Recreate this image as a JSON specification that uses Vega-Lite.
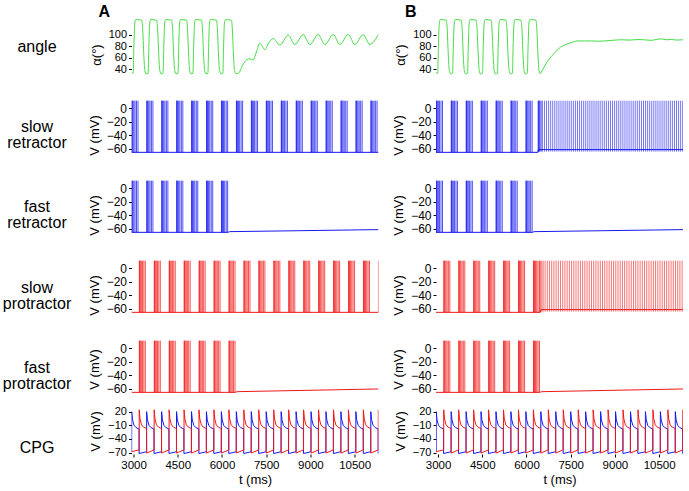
{
"$schema":"https://vega.github.io/schema/vega-lite/v6.json",
"padding":{"left":0,"top":4,"right":0,"bottom":0},
"config":{"view":{"stroke":null},"font":"Liberation Sans",
"axis":{"domain":false,"grid":false,"tickSize":3,"tickColor":"#000","labelColor":"#000","labelFontSize":12,"titleFontSize":13,"titleFontWeight":"normal","titleColor":"#000","labelPadding":2,"titlePadding":5,"labelFlush":false,"labelOverlap":false},
"title":{"fontSize":16,"fontWeight":"bold","color":"#000","anchor":"start","frame":"group","offset":-1}},
"datasets":{
"labels":[{"r":0,"lab":"angle"},{"r":1,"lab":"slow\nretractor"},{"r":2,"lab":"fast\nretractor"},{"r":3,"lab":"slow\nprotractor"},{"r":4,"lab":"fast\nprotractor"},{"r":5,"lab":"CPG"}],
"angCyc":[{"t":2930,"v":34},{"t":2987,"v":33},{"t":3012,"v":80},{"t":3042,"v":120},{"t":3077,"v":126},{"t":3277,"v":125},{"t":3307,"v":112},{"t":3347,"v":65},{"t":3382,"v":38},{"t":3427,"v":32},
{"t":3494,"v":33},{"t":3519,"v":80},{"t":3549,"v":120},{"t":3584,"v":126},{"t":3784,"v":125},{"t":3814,"v":112},{"t":3854,"v":65},{"t":3889,"v":38},{"t":3934,"v":32},
{"t":4001,"v":33},{"t":4026,"v":80},{"t":4056,"v":120},{"t":4091,"v":126},{"t":4291,"v":125},{"t":4321,"v":112},{"t":4361,"v":65},{"t":4396,"v":38},{"t":4441,"v":32},
{"t":4508,"v":33},{"t":4533,"v":80},{"t":4563,"v":120},{"t":4598,"v":126},{"t":4798,"v":125},{"t":4828,"v":112},{"t":4868,"v":65},{"t":4903,"v":38},{"t":4948,"v":32},
{"t":5015,"v":33},{"t":5040,"v":80},{"t":5070,"v":120},{"t":5105,"v":126},{"t":5305,"v":125},{"t":5335,"v":112},{"t":5375,"v":65},{"t":5410,"v":38},{"t":5455,"v":32},
{"t":5522,"v":33},{"t":5547,"v":80},{"t":5577,"v":120},{"t":5612,"v":126},{"t":5812,"v":125},{"t":5842,"v":112},{"t":5882,"v":65},{"t":5917,"v":38},{"t":5962,"v":32},
{"t":6029,"v":33},{"t":6054,"v":80},{"t":6084,"v":120},{"t":6119,"v":126},{"t":6319,"v":125},{"t":6349,"v":112},{"t":6389,"v":65},{"t":6424,"v":38},{"t":6469,"v":32}],
"angTailA":[{"t":6469,"v":32},{"t":6560,"v":33},{"t":6700,"v":47},{"t":6832,"v":56},{"t":6950,"v":58},{"t":7058,"v":56},{"t":7180,"v":72},{"t":7284,"v":85},{"t":7454,"v":74},{"t":7600,"v":87},{"t":7737,"v":93},{"t":7963,"v":82},{"t":8246,"v":99},{"t":8472,"v":83},{"t":8755,"v":100},{"t":8981,"v":83},{"t":9264,"v":100},{"t":9490,"v":83},{"t":9773,"v":100},{"t":9999,"v":83},{"t":10282,"v":100},{"t":10508,"v":83},{"t":10790,"v":100},{"t":11017,"v":83},{"t":11300,"v":100}],
"angTailB":[{"t":6469,"v":32},{"t":6560,"v":40},{"t":6700,"v":53},{"t":6843,"v":62},{"t":7000,"v":71},{"t":7150,"v":78},{"t":7296,"v":82},{"t":7500,"v":86},{"t":7748,"v":89},{"t":8000,"v":89},{"t":8200,"v":89},{"t":8450,"v":88.5},{"t":8653,"v":89},{"t":8900,"v":90},{"t":9218,"v":91},{"t":9500,"v":90.5},{"t":9784,"v":91.4},{"t":10000,"v":91},{"t":10236,"v":90},{"t":10400,"v":91.5},{"t":10576,"v":92.5},{"t":10750,"v":91},{"t":10915,"v":91.5},{"t":11100,"v":90.5},{"t":11310,"v":91}],
"sr":[{"t":2940},{"t":2950},{"t":2975},{"t":3010},{"t":3050},{"t":3100},{"t":3150},
{"t":3447},{"t":3457},{"t":3482},{"t":3517},{"t":3557},{"t":3607},{"t":3657},
{"t":3954},{"t":3964},{"t":3989},{"t":4024},{"t":4064},{"t":4114},{"t":4164},
{"t":4461},{"t":4471},{"t":4496},{"t":4531},{"t":4571},{"t":4621},{"t":4671},
{"t":4968},{"t":4978},{"t":5003},{"t":5038},{"t":5078},{"t":5128},{"t":5178},
{"t":5475},{"t":5485},{"t":5510},{"t":5545},{"t":5585},{"t":5635},{"t":5685},
{"t":5982},{"t":5992},{"t":6017},{"t":6052},{"t":6092},{"t":6142},{"t":6192},
{"t":6489},{"t":6499},{"t":6524},{"t":6559},{"t":6599},{"t":6649},{"t":6699},
{"t":6996},{"t":7006},{"t":7031},{"t":7066},{"t":7106},{"t":7156},{"t":7206},
{"t":7503},{"t":7513},{"t":7538},{"t":7573},{"t":7613},{"t":7663},{"t":7713},
{"t":8010},{"t":8020},{"t":8045},{"t":8080},{"t":8120},{"t":8170},{"t":8220},
{"t":8517},{"t":8527},{"t":8552},{"t":8587},{"t":8627},{"t":8677},{"t":8727},
{"t":9024},{"t":9034},{"t":9059},{"t":9094},{"t":9134},{"t":9184},{"t":9234},
{"t":9531},{"t":9541},{"t":9566},{"t":9601},{"t":9641},{"t":9691},{"t":9741},
{"t":10038},{"t":10048},{"t":10073},{"t":10108},{"t":10148},{"t":10198},{"t":10248},
{"t":10545},{"t":10555},{"t":10580},{"t":10615},{"t":10655},{"t":10705},{"t":10755},
{"t":11052},{"t":11062},{"t":11087},{"t":11122},{"t":11162},{"t":11212},{"t":11262}],
"sp":[{"t":3195},{"t":3205},{"t":3230},{"t":3265},{"t":3305},{"t":3350},{"t":3400},
{"t":3702},{"t":3712},{"t":3737},{"t":3772},{"t":3812},{"t":3857},{"t":3907},
{"t":4209},{"t":4219},{"t":4244},{"t":4279},{"t":4319},{"t":4364},{"t":4414},
{"t":4716},{"t":4726},{"t":4751},{"t":4786},{"t":4826},{"t":4871},{"t":4921},
{"t":5223},{"t":5233},{"t":5258},{"t":5293},{"t":5333},{"t":5378},{"t":5428},
{"t":5730},{"t":5740},{"t":5765},{"t":5800},{"t":5840},{"t":5885},{"t":5935},
{"t":6237},{"t":6247},{"t":6272},{"t":6307},{"t":6347},{"t":6392},{"t":6442},
{"t":6744},{"t":6754},{"t":6779},{"t":6814},{"t":6854},{"t":6899},{"t":6949},
{"t":7251},{"t":7261},{"t":7286},{"t":7321},{"t":7361},{"t":7406},{"t":7456},
{"t":7758},{"t":7768},{"t":7793},{"t":7828},{"t":7868},{"t":7913},{"t":7963},
{"t":8265},{"t":8275},{"t":8300},{"t":8335},{"t":8375},{"t":8420},{"t":8470},
{"t":8772},{"t":8782},{"t":8807},{"t":8842},{"t":8882},{"t":8927},{"t":8977},
{"t":9279},{"t":9289},{"t":9314},{"t":9349},{"t":9389},{"t":9434},{"t":9484},
{"t":9786},{"t":9796},{"t":9821},{"t":9856},{"t":9896},{"t":9941},{"t":9991},
{"t":10293},{"t":10303},{"t":10328},{"t":10363},{"t":10403},{"t":10448},{"t":10498},
{"t":10800},{"t":10810},{"t":10835},{"t":10870},{"t":10910},{"t":10955},{"t":11005},
{"t":11307}],
"srTon":[{"t":6395},{"t":6405},{"t":6420},{"t":6440},{"t":6465},{"t":6500},{"t":6540},{"t":6610},{"t":6680},{"t":6750},{"t":6820},{"t":6890},{"t":6960},{"t":7030},{"t":7100},{"t":7170},{"t":7240},{"t":7310},{"t":7380},{"t":7450},{"t":7520},{"t":7590},{"t":7660},{"t":7730},{"t":7800},{"t":7870},{"t":7940},{"t":8010},{"t":8080},{"t":8150},{"t":8220},{"t":8290},{"t":8360},{"t":8430},{"t":8500},{"t":8570},{"t":8640},{"t":8710},{"t":8780},{"t":8850},{"t":8920},{"t":8990},{"t":9060},{"t":9130},{"t":9200},{"t":9270},{"t":9340},{"t":9410},{"t":9480},{"t":9550},{"t":9620},{"t":9690},{"t":9760},{"t":9830},{"t":9900},{"t":9970},{"t":10040},{"t":10110},{"t":10180},{"t":10250},{"t":10320},{"t":10390},{"t":10460},{"t":10530},{"t":10600},{"t":10670},{"t":10740},{"t":10810},{"t":10880},{"t":10950},{"t":11020},{"t":11090},{"t":11160},{"t":11230},{"t":11300}],
"spTon":[{"t":6480},{"t":6520},{"t":6565},{"t":6630},{"t":6705},{"t":6780},{"t":6855},{"t":6930},{"t":7005},{"t":7080},{"t":7155},{"t":7230},{"t":7305},{"t":7380},{"t":7455},{"t":7530},{"t":7605},{"t":7680},{"t":7755},{"t":7830},{"t":7905},{"t":7980},{"t":8055},{"t":8130},{"t":8205},{"t":8280},{"t":8355},{"t":8430},{"t":8505},{"t":8580},{"t":8655},{"t":8730},{"t":8805},{"t":8880},{"t":8955},{"t":9030},{"t":9105},{"t":9180},{"t":9255},{"t":9330},{"t":9405},{"t":9480},{"t":9555},{"t":9630},{"t":9705},{"t":9780},{"t":9855},{"t":9930},{"t":10005},{"t":10080},{"t":10155},{"t":10230},{"t":10305},{"t":10380},{"t":10455},{"t":10530},{"t":10605},{"t":10680},{"t":10755},{"t":10830},{"t":10905},{"t":10980},{"t":11055},{"t":11130},{"t":11205},{"t":11280}],
"baseFlat":[{"t":2930,"v":-65},{"t":11310,"v":-65}],
"baseFR":[{"t":2930,"v":-65},{"t":6200,"v":-65},{"t":6260,"v":-64},{"t":11310,"v":-61}],
"baseFP":[{"t":2930,"v":-65},{"t":6450,"v":-65},{"t":6510,"v":-64},{"t":11310,"v":-60}],
"baseSRB":[{"t":2930,"v":-65},{"t":6390,"v":-65},{"t":6400,"v":-61},{"t":11310,"v":-61}],
"baseSPB":[{"t":2930,"v":-65},{"t":6470,"v":-65},{"t":6490,"v":-61},{"t":11310,"v":-61}],
"cpgB":[{"t":2935,"v":-68},{"t":2937,"v":20},{"t":2965,"v":2},{"t":3015,"v":-10},{"t":3085,"v":-15},{"t":3185,"v":-18},{"t":3188,"v":-72},
{"t":3442,"v":-68},{"t":3444,"v":20},{"t":3472,"v":2},{"t":3522,"v":-10},{"t":3592,"v":-15},{"t":3692,"v":-18},{"t":3695,"v":-72},
{"t":3949,"v":-68},{"t":3951,"v":20},{"t":3979,"v":2},{"t":4029,"v":-10},{"t":4099,"v":-15},{"t":4199,"v":-18},{"t":4202,"v":-72},
{"t":4456,"v":-68},{"t":4458,"v":20},{"t":4486,"v":2},{"t":4536,"v":-10},{"t":4606,"v":-15},{"t":4706,"v":-18},{"t":4709,"v":-72},
{"t":4963,"v":-68},{"t":4965,"v":20},{"t":4993,"v":2},{"t":5043,"v":-10},{"t":5113,"v":-15},{"t":5213,"v":-18},{"t":5216,"v":-72},
{"t":5470,"v":-68},{"t":5472,"v":20},{"t":5500,"v":2},{"t":5550,"v":-10},{"t":5620,"v":-15},{"t":5720,"v":-18},{"t":5723,"v":-72},
{"t":5977,"v":-68},{"t":5979,"v":20},{"t":6007,"v":2},{"t":6057,"v":-10},{"t":6127,"v":-15},{"t":6227,"v":-18},{"t":6230,"v":-72},
{"t":6484,"v":-68},{"t":6486,"v":20},{"t":6514,"v":2},{"t":6564,"v":-10},{"t":6634,"v":-15},{"t":6734,"v":-18},{"t":6737,"v":-72},
{"t":6991,"v":-68},{"t":6993,"v":20},{"t":7021,"v":2},{"t":7071,"v":-10},{"t":7141,"v":-15},{"t":7241,"v":-18},{"t":7244,"v":-72},
{"t":7498,"v":-68},{"t":7500,"v":20},{"t":7528,"v":2},{"t":7578,"v":-10},{"t":7648,"v":-15},{"t":7748,"v":-18},{"t":7751,"v":-72},
{"t":8005,"v":-68},{"t":8007,"v":20},{"t":8035,"v":2},{"t":8085,"v":-10},{"t":8155,"v":-15},{"t":8255,"v":-18},{"t":8258,"v":-72},
{"t":8512,"v":-68},{"t":8514,"v":20},{"t":8542,"v":2},{"t":8592,"v":-10},{"t":8662,"v":-15},{"t":8762,"v":-18},{"t":8765,"v":-72},
{"t":9019,"v":-68},{"t":9021,"v":20},{"t":9049,"v":2},{"t":9099,"v":-10},{"t":9169,"v":-15},{"t":9269,"v":-18},{"t":9272,"v":-72},
{"t":9526,"v":-68},{"t":9528,"v":20},{"t":9556,"v":2},{"t":9606,"v":-10},{"t":9676,"v":-15},{"t":9776,"v":-18},{"t":9779,"v":-72},
{"t":10033,"v":-68},{"t":10035,"v":20},{"t":10063,"v":2},{"t":10113,"v":-10},{"t":10183,"v":-15},{"t":10283,"v":-18},{"t":10286,"v":-72},
{"t":10540,"v":-68},{"t":10542,"v":20},{"t":10570,"v":2},{"t":10620,"v":-10},{"t":10690,"v":-15},{"t":10790,"v":-18},{"t":10793,"v":-72},
{"t":11047,"v":-68},{"t":11049,"v":20},{"t":11077,"v":2},{"t":11127,"v":-10},{"t":11197,"v":-15},{"t":11297,"v":-18},{"t":11300,"v":-72},{"t":11310,"v":-72}],
"cpgR":[{"t":2930,"v":-68},
{"t":3190,"v":-64},{"t":3192,"v":24},{"t":3220,"v":4},{"t":3270,"v":-9},{"t":3340,"v":-14},{"t":3440,"v":-17},{"t":3443,"v":-71},
{"t":3697,"v":-64},{"t":3699,"v":24},{"t":3727,"v":4},{"t":3777,"v":-9},{"t":3847,"v":-14},{"t":3947,"v":-17},{"t":3950,"v":-71},
{"t":4204,"v":-64},{"t":4206,"v":24},{"t":4234,"v":4},{"t":4284,"v":-9},{"t":4354,"v":-14},{"t":4454,"v":-17},{"t":4457,"v":-71},
{"t":4711,"v":-64},{"t":4713,"v":24},{"t":4741,"v":4},{"t":4791,"v":-9},{"t":4861,"v":-14},{"t":4961,"v":-17},{"t":4964,"v":-71},
{"t":5218,"v":-64},{"t":5220,"v":24},{"t":5248,"v":4},{"t":5298,"v":-9},{"t":5368,"v":-14},{"t":5468,"v":-17},{"t":5471,"v":-71},
{"t":5725,"v":-64},{"t":5727,"v":24},{"t":5755,"v":4},{"t":5805,"v":-9},{"t":5875,"v":-14},{"t":5975,"v":-17},{"t":5978,"v":-71},
{"t":6232,"v":-64},{"t":6234,"v":24},{"t":6262,"v":4},{"t":6312,"v":-9},{"t":6382,"v":-14},{"t":6482,"v":-17},{"t":6485,"v":-71},
{"t":6739,"v":-64},{"t":6741,"v":24},{"t":6769,"v":4},{"t":6819,"v":-9},{"t":6889,"v":-14},{"t":6989,"v":-17},{"t":6992,"v":-71},
{"t":7246,"v":-64},{"t":7248,"v":24},{"t":7276,"v":4},{"t":7326,"v":-9},{"t":7396,"v":-14},{"t":7496,"v":-17},{"t":7499,"v":-71},
{"t":7753,"v":-64},{"t":7755,"v":24},{"t":7783,"v":4},{"t":7833,"v":-9},{"t":7903,"v":-14},{"t":8003,"v":-17},{"t":8006,"v":-71},
{"t":8260,"v":-64},{"t":8262,"v":24},{"t":8290,"v":4},{"t":8340,"v":-9},{"t":8410,"v":-14},{"t":8510,"v":-17},{"t":8513,"v":-71},
{"t":8767,"v":-64},{"t":8769,"v":24},{"t":8797,"v":4},{"t":8847,"v":-9},{"t":8917,"v":-14},{"t":9017,"v":-17},{"t":9020,"v":-71},
{"t":9274,"v":-64},{"t":9276,"v":24},{"t":9304,"v":4},{"t":9354,"v":-9},{"t":9424,"v":-14},{"t":9524,"v":-17},{"t":9527,"v":-71},
{"t":9781,"v":-64},{"t":9783,"v":24},{"t":9811,"v":4},{"t":9861,"v":-9},{"t":9931,"v":-14},{"t":10031,"v":-17},{"t":10034,"v":-71},
{"t":10288,"v":-64},{"t":10290,"v":24},{"t":10318,"v":4},{"t":10368,"v":-9},{"t":10438,"v":-14},{"t":10538,"v":-17},{"t":10541,"v":-71},
{"t":10795,"v":-64},{"t":10797,"v":24},{"t":10825,"v":4},{"t":10875,"v":-9},{"t":10945,"v":-14},{"t":11045,"v":-17},{"t":11048,"v":-71},
{"t":11302,"v":-64},{"t":11304,"v":24}]
},
"spacing":13.5,
"hconcat":[
{"width":74,"height":435,"data":{"name":"labels"},"mark":{"type":"text","fontSize":16,"lineHeight":16,"lineBreak":"\n","font":"Liberation Sans","color":"#000"},
 "encoding":{"y":{"field":"r","type":"quantitative","scale":{"domain":[-0.349,5.075],"reverse":true,"nice":false,"zero":false},"axis":null},"text":{"field":"lab"}}},
{"vconcat":[
 {"width":247,"height":71,"title":{"text":"A","dx":-33},
  "encoding":{"x":{"field":"t","type":"quantitative","scale":{"domain":[2930,11310],"nice":false,"zero":false},"axis":null},"y":{"field":"v","type":"quantitative","scale":{"domain":[4,127],"nice":false,"zero":false},"axis":{"values":[40,60,80,100],"title":"α(°)","labelOverlap":false,"labelFontSize":11}}},
  "layer":[
   {"data":{"name":"angCyc"},"mark":{"type":"line","color":"#44dd44","strokeWidth":1,"interpolate":"monotone","clip":true}},
   {"data":{"name":"angTailA"},"mark":{"type":"line","color":"#44dd44","strokeWidth":1,"interpolate":"monotone","clip":true}}]},
 {"width":247,"height":70,
  "encoding":{"x":{"field":"t","type":"quantitative","scale":{"domain":[2930,11310],"nice":false,"zero":false},"axis":null}},
  "layer":[
   {"data":{"name":"baseFlat"},"mark":{"type":"line","color":"#1818f0","strokeWidth":1,"clip":true},"encoding":{"y":{"field":"v","type":"quantitative","scale":{"domain":[-91,12],"nice":false,"zero":false},"axis":{"values":[0,-20,-40,-60],"title":"V (mV)","labelOverlap":false}}}},
   {"data":{"name":"sr"},"mark":{"type":"rule","color":"#1818f0","strokeWidth":1,"opacity":0.75,"clip":true},"encoding":{"y":{"datum":-65,"type":"quantitative","axis":{"values":[0,-20,-40,-60],"title":"V (mV)","labelOverlap":false}},"y2":{"datum":11}}}]},
 {"width":247,"height":70,
  "encoding":{"x":{"field":"t","type":"quantitative","scale":{"domain":[2930,11310],"nice":false,"zero":false},"axis":null}},
  "layer":[
   {"data":{"name":"baseFR"},"mark":{"type":"line","color":"#1818f0","strokeWidth":1,"clip":true},"encoding":{"y":{"field":"v","type":"quantitative","scale":{"domain":[-91,12],"nice":false,"zero":false},"axis":{"values":[0,-20,-40,-60],"title":"V (mV)","labelOverlap":false}}}},
   {"data":{"name":"sr"},"transform":[{"filter":"datum.t < 6300"}],"mark":{"type":"rule","color":"#1818f0","strokeWidth":1,"opacity":0.75,"clip":true},"encoding":{"y":{"datum":-65,"type":"quantitative","axis":{"values":[0,-20,-40,-60],"title":"V (mV)","labelOverlap":false}},"y2":{"datum":11}}}]},
 {"width":247,"height":70,
  "encoding":{"x":{"field":"t","type":"quantitative","scale":{"domain":[2930,11310],"nice":false,"zero":false},"axis":null}},
  "layer":[
   {"data":{"name":"baseFlat"},"mark":{"type":"line","color":"#f01818","strokeWidth":1,"clip":true},"encoding":{"y":{"field":"v","type":"quantitative","scale":{"domain":[-91,12],"nice":false,"zero":false},"axis":{"values":[0,-20,-40,-60],"title":"V (mV)","labelOverlap":false}}}},
   {"data":{"name":"sp"},"mark":{"type":"rule","color":"#f01818","strokeWidth":1,"opacity":0.75,"clip":true},"encoding":{"y":{"datum":-65,"type":"quantitative","axis":{"values":[0,-20,-40,-60],"title":"V (mV)","labelOverlap":false}},"y2":{"datum":11}}}]},
 {"width":247,"height":58,
  "encoding":{"x":{"field":"t","type":"quantitative","scale":{"domain":[2930,11310],"nice":false,"zero":false},"axis":null}},
  "layer":[
   {"data":{"name":"baseFP"},"mark":{"type":"line","color":"#f01818","strokeWidth":1,"clip":true},"encoding":{"y":{"field":"v","type":"quantitative","scale":{"domain":[-73.3,12],"nice":false,"zero":false},"axis":{"values":[0,-20,-40,-60],"title":"V (mV)","labelOverlap":false}}}},
   {"data":{"name":"sp"},"transform":[{"filter":"datum.t < 6500"}],"mark":{"type":"rule","color":"#f01818","strokeWidth":1,"opacity":0.75,"clip":true},"encoding":{"y":{"datum":-65,"type":"quantitative","axis":{"values":[0,-20,-40,-60],"title":"V (mV)","labelOverlap":false}},"y2":{"datum":11}}}]},
 {"width":247,"height":46,
  "encoding":{"x":{"field":"t","type":"quantitative","scale":{"domain":[2930,11310],"nice":false,"zero":false},"axis":{"values":[3000,4500,6000,7500,9000,10500],"format":"d","title":"t (ms)","titlePadding":3,"labelOverlap":false,"labelFontSize":11.5}},"y":{"field":"v","type":"quantitative","scale":{"domain":[-73,28],"nice":false,"zero":false},"axis":{"values":[20,-10,-40,-70],"title":"V (mV)","labelOverlap":false,"labelFontSize":11}}},
  "layer":[
   {"data":{"name":"cpgB"},"mark":{"type":"line","color":"#1818f0","strokeWidth":1,"clip":true}},
   {"data":{"name":"cpgR"},"mark":{"type":"line","color":"#f01818","strokeWidth":1,"clip":true}}]}
 ],"spacing":10,"bounds":"flush"},
{"vconcat":[
 {"width":247,"height":71,"title":{"text":"B","dx":-31},
  "encoding":{"x":{"field":"t","type":"quantitative","scale":{"domain":[2930,11310],"nice":false,"zero":false},"axis":null},"y":{"field":"v","type":"quantitative","scale":{"domain":[4,127],"nice":false,"zero":false},"axis":{"values":[40,60,80,100],"title":"α(°)","labelOverlap":false,"labelFontSize":11}}},
  "layer":[
   {"data":{"name":"angCyc"},"mark":{"type":"line","color":"#44dd44","strokeWidth":1,"interpolate":"monotone","clip":true}},
   {"data":{"name":"angTailB"},"mark":{"type":"line","color":"#44dd44","strokeWidth":1,"interpolate":"monotone","clip":true}}]},
 {"width":247,"height":70,
  "encoding":{"x":{"field":"t","type":"quantitative","scale":{"domain":[2930,11310],"nice":false,"zero":false},"axis":null}},
  "layer":[
   {"data":{"name":"baseSRB"},"mark":{"type":"line","color":"#1818f0","strokeWidth":1,"clip":true},"encoding":{"y":{"field":"v","type":"quantitative","scale":{"domain":[-91,12],"nice":false,"zero":false},"axis":{"values":[0,-20,-40,-60],"title":"V (mV)","labelOverlap":false}}}},
   {"data":{"name":"sr"},"transform":[{"filter":"datum.t < 6300"}],"mark":{"type":"rule","color":"#1818f0","strokeWidth":1,"opacity":0.75,"clip":true},"encoding":{"y":{"datum":-65,"type":"quantitative","axis":{"values":[0,-20,-40,-60],"title":"V (mV)","labelOverlap":false}},"y2":{"datum":11}}},
   {"data":{"name":"srTon"},"mark":{"type":"rule","color":"#1818f0","strokeWidth":1,"opacity":0.6,"clip":true},"encoding":{"y":{"datum":-64,"type":"quantitative","axis":{"values":[0,-20,-40,-60],"title":"V (mV)","labelOverlap":false}},"y2":{"datum":11}}}]},
 {"width":247,"height":70,
  "encoding":{"x":{"field":"t","type":"quantitative","scale":{"domain":[2930,11310],"nice":false,"zero":false},"axis":null}},
  "layer":[
   {"data":{"name":"baseFR"},"mark":{"type":"line","color":"#1818f0","strokeWidth":1,"clip":true},"encoding":{"y":{"field":"v","type":"quantitative","scale":{"domain":[-91,12],"nice":false,"zero":false},"axis":{"values":[0,-20,-40,-60],"title":"V (mV)","labelOverlap":false}}}},
   {"data":{"name":"sr"},"transform":[{"filter":"datum.t < 6300"}],"mark":{"type":"rule","color":"#1818f0","strokeWidth":1,"opacity":0.75,"clip":true},"encoding":{"y":{"datum":-65,"type":"quantitative","axis":{"values":[0,-20,-40,-60],"title":"V (mV)","labelOverlap":false}},"y2":{"datum":11}}}]},
 {"width":247,"height":70,
  "encoding":{"x":{"field":"t","type":"quantitative","scale":{"domain":[2930,11310],"nice":false,"zero":false},"axis":null}},
  "layer":[
   {"data":{"name":"baseSPB"},"mark":{"type":"line","color":"#f01818","strokeWidth":1,"clip":true},"encoding":{"y":{"field":"v","type":"quantitative","scale":{"domain":[-91,12],"nice":false,"zero":false},"axis":{"values":[0,-20,-40,-60],"title":"V (mV)","labelOverlap":false}}}},
   {"data":{"name":"sp"},"transform":[{"filter":"datum.t < 6500"}],"mark":{"type":"rule","color":"#f01818","strokeWidth":1,"opacity":0.75,"clip":true},"encoding":{"y":{"datum":-65,"type":"quantitative","axis":{"values":[0,-20,-40,-60],"title":"V (mV)","labelOverlap":false}},"y2":{"datum":11}}},
   {"data":{"name":"spTon"},"mark":{"type":"rule","color":"#f01818","strokeWidth":1,"opacity":0.6,"clip":true},"encoding":{"y":{"datum":-64,"type":"quantitative","axis":{"values":[0,-20,-40,-60],"title":"V (mV)","labelOverlap":false}},"y2":{"datum":11}}}]},
 {"width":247,"height":58,
  "encoding":{"x":{"field":"t","type":"quantitative","scale":{"domain":[2930,11310],"nice":false,"zero":false},"axis":null}},
  "layer":[
   {"data":{"name":"baseFP"},"mark":{"type":"line","color":"#f01818","strokeWidth":1,"clip":true},"encoding":{"y":{"field":"v","type":"quantitative","scale":{"domain":[-73.3,12],"nice":false,"zero":false},"axis":{"values":[0,-20,-40,-60],"title":"V (mV)","labelOverlap":false}}}},
   {"data":{"name":"sp"},"transform":[{"filter":"datum.t < 6500"}],"mark":{"type":"rule","color":"#f01818","strokeWidth":1,"opacity":0.75,"clip":true},"encoding":{"y":{"datum":-65,"type":"quantitative","axis":{"values":[0,-20,-40,-60],"title":"V (mV)","labelOverlap":false}},"y2":{"datum":11}}}]},
 {"width":247,"height":46,
  "encoding":{"x":{"field":"t","type":"quantitative","scale":{"domain":[2930,11310],"nice":false,"zero":false},"axis":{"values":[3000,4500,6000,7500,9000,10500],"format":"d","title":"t (ms)","titlePadding":3,"labelOverlap":false,"labelFontSize":11.5}},"y":{"field":"v","type":"quantitative","scale":{"domain":[-73,28],"nice":false,"zero":false},"axis":{"values":[20,-10,-40,-70],"title":"V (mV)","labelOverlap":false,"labelFontSize":11}}},
  "layer":[
   {"data":{"name":"cpgB"},"mark":{"type":"line","color":"#1818f0","strokeWidth":1,"clip":true}},
   {"data":{"name":"cpgR"},"mark":{"type":"line","color":"#f01818","strokeWidth":1,"clip":true}}]}
 ],"spacing":10,"bounds":"flush"}
]}
